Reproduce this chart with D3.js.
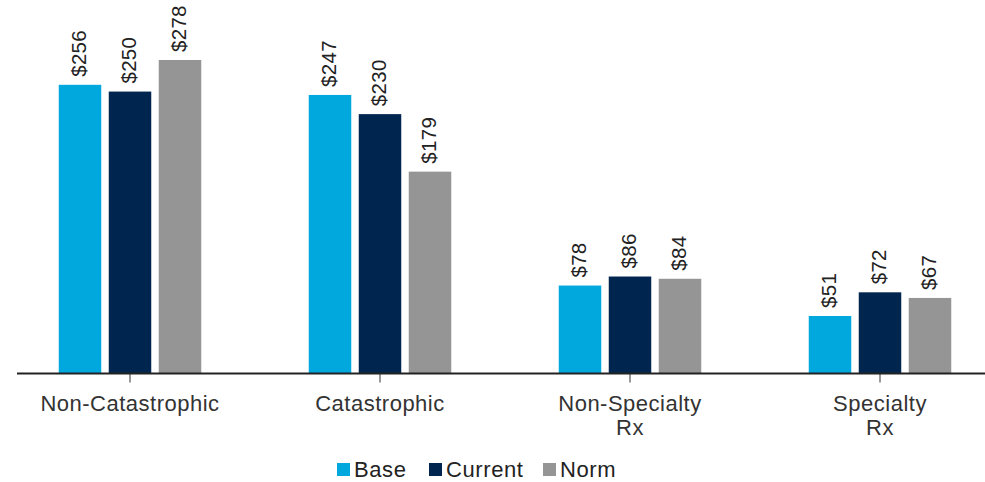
<!DOCTYPE html>
<html>
<head>
<meta charset="utf-8">
<script src="https://cdn.jsdelivr.net/npm/d3@7/dist/d3.min.js"></script>
<style>
  html, body { margin: 0; padding: 0; background: #ffffff; }
  svg { display: block; font-family: "Liberation Sans", Arial, sans-serif; }
</style>
</head>
<body>
<svg id="chart" width="985" height="482"></svg>
<script>
// Average cost per claim by category
const categories = ["Non-Catastrophic", "Catastrophic", "Non-Specialty\nRx", "Specialty\nRx"];
const seriesNames = ["Base", "Current", "Norm"];
const baseValues = [256, 247, 78, 51];
const currentValues = [250, 230, 86, 72];
const normValues = [278, 179, 84, 67];
const colors = ["#00a8de", "#00264f", "#959595"];

const seriesValues = [baseValues, currentValues, normValues];
const rows = categories.map((c, i) => ({
  category: c,
  values: seriesNames.map((s, j) => ({ series: s, value: seriesValues[j][i] }))
}));

const svg = d3.select("#chart");
const baseline = 373.5;

const x0 = d3.scaleBand()
  .domain(categories)
  .range([5, 1005])
  .paddingInner(0.4)
  .paddingOuter(0.2);

const x1 = d3.scaleBand()
  .domain(seriesNames)
  .range([0, x0.bandwidth()])
  .paddingInner(0.15)
  .paddingOuter(0.075);

const y = d3.scaleLinear()
  .domain([0, 331.2])
  .range([baseline, 0]);

const color = d3.scaleOrdinal().domain(seriesNames).range(colors);

// Bars
const groups = svg.append("g")
  .selectAll("g")
  .data(rows)
  .join("g")
  .attr("transform", d => `translate(${x0(d.category)},0)`);

groups.selectAll("rect")
  .data(d => d.values)
  .join("rect")
  .attr("x", d => x1(d.series))
  .attr("y", d => y(d.value))
  .attr("width", x1.bandwidth())
  .attr("height", d => y(0) - y(d.value))
  .attr("fill", d => color(d.series));

// Value labels, rotated above each bar
groups.selectAll("text.value")
  .data(d => d.values)
  .join("text")
  .attr("class", "value")
  .attr("transform", d => `translate(${x1(d.series) + x1.bandwidth() / 2 - 1},${y(d.value) - 8}) rotate(-90)`)
  .attr("dy", "0.36em")
  .attr("text-anchor", "start")
  .attr("font-size", "20.5px")
  .attr("letter-spacing", "0.3px")
  .attr("fill", "#222")
  .text(d => "$" + d.value);

// Category axis
const axis = svg.append("g")
  .attr("transform", `translate(0,${baseline})`)
  .call(d3.axisBottom(x0).tickSize(9).tickSizeOuter(0).tickFormat(""));
axis.select(".domain").remove();
axis.selectAll(".tick line").attr("stroke", "#555").attr("stroke-width", 1.2);

svg.append("line")
  .attr("x1", 17).attr("x2", 985)
  .attr("y1", baseline).attr("y2", baseline)
  .attr("stroke", "#222")
  .attr("stroke-width", 1.8);

// Category labels (multi-line)
const catLabels = svg.append("g")
  .selectAll("text")
  .data(categories)
  .join("text")
  .attr("x", d => x0(d) + x0.bandwidth() / 2)
  .attr("y", 411)
  .attr("text-anchor", "middle")
  .attr("font-size", "22px")
  .attr("letter-spacing", "0.5px")
  .attr("fill", "#333");

catLabels.selectAll("tspan")
  .data(d => d.split("\n"))
  .join("tspan")
  .attr("x", function () { return this.parentNode.getAttribute("x"); })
  .attr("dy", (d, i) => i === 0 ? 0 : 24)
  .text(d => d);

// Legend
const legendX = [337, 429, 543];
const legend = svg.append("g")
  .selectAll("g")
  .data(seriesNames)
  .join("g")
  .attr("transform", (d, i) => `translate(${legendX[i]},0)`);

legend.append("rect")
  .attr("x", 0)
  .attr("y", 463)
  .attr("width", 13)
  .attr("height", 13)
  .attr("fill", d => color(d));

legend.append("text")
  .attr("x", 17)
  .attr("y", 477)
  .attr("font-size", "22px")
  .attr("letter-spacing", "0.6px")
  .attr("fill", "#222")
  .text(d => d);
</script>
</body>
</html>
